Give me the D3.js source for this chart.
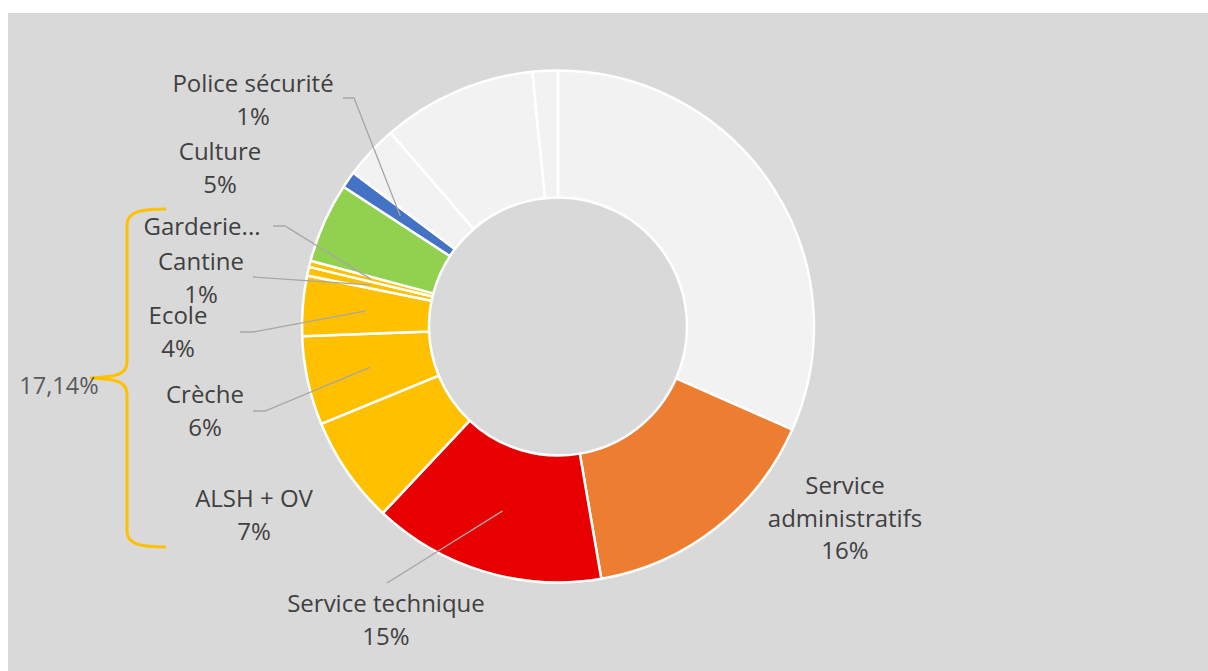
<!DOCTYPE html>
<html>
<head>
<meta charset="utf-8">
<script src="https://cdn.jsdelivr.net/npm/d3@7"></script>
<style>
  body { margin: 0; background: #fff; }
  svg { display: block; }
  text { font-family: "Open Sans", sans-serif; }
</style>
</head>
<body>
<div class="chart"></div>
<script>
// services, clockwise from 12 o'clock
const categories = ['Autres A', 'Service administratifs', 'Service technique', 'ALSH + OV', 'Crèche', 'Ecole', 'Cantine', 'Garderie', 'Culture', 'Police sécurité', 'Autres B', 'Autres C', 'Autres D']
const values = [31.6, 15.7, 14.7, 6.8, 5.6, 3.8, 0.55, 0.39, 5.06, 1.06, 3.4, 9.75, 1.6]
const colors = ['#f2f2f2', '#ed7d31', '#e80000', '#ffc000', '#ffc000', '#ffc000', '#ffc000', '#ffc000', '#92d050', '#4472c4', '#f2f2f2', '#f2f2f2', '#f2f2f2']
const groupLabel = '17,14%'

// label layout: [category, lines, x, first baseline, leader start pts]
const labels = [
  {cat: 'Police sécurité', lines: ['Police sécurité', '1%'], x: 253, y: 92, lead: [[343, 98], [354, 98]]},
  {cat: 'Culture', lines: ['Culture', '5%'], x: 220, y: 160},
  {cat: 'Garderie', lines: ['Garderie...'], x: 202, y: 235, lead: [[273, 226], [285, 226]]},
  {cat: 'Cantine', lines: ['Cantine', '1%'], x: 201, y: 270, lead: [[253, 277]]},
  {cat: 'Ecole', lines: ['Ecole', '4%'], x: 178, y: 324, lead: [[240, 332], [253, 332]]},
  {cat: 'Crèche', lines: ['Crèche', '6%'], x: 205, y: 403, lead: [[253, 411], [265, 411]]},
  {cat: 'ALSH + OV', lines: ['ALSH + OV', '7%'], x: 254, y: 507},
  {cat: 'Service administratifs', lines: ['Service', 'administratifs', '16%'], x: 845, y: 494},
  {cat: 'Service technique', lines: ['Service technique', '15%'], x: 386, y: 612, lead: [[387, 583]]}
]

const width = 1208, height = 671
const cx = 558, cy = 326.5
const rOuter = 256, rInner = 129

const svg = d3.select('.chart').append('svg')
  .attr('width', width)
  .attr('height', height)

svg.append('rect')
  .attr('x', 8).attr('y', 13)
  .attr('width', width - 8).attr('height', height - 13)
  .attr('fill', '#d9d9d9')

const data = categories.map((c, i) => ({cat: c, value: values[i], color: colors[i]}))

const pie = d3.pie().sort(null).value(d => d.value)
const arcs = pie(data)
const arc = d3.arc().innerRadius(rInner).outerRadius(rOuter)

const g = svg.append('g').attr('transform', `translate(${cx},${cy})`)

g.selectAll('.slice')
  .data(arcs)
  .enter()
  .append('path')
  .attr('class', 'slice')
  .attr('d', arc)
  .attr('fill', d => d.data.color)
  .attr('stroke', '#fff')
  .attr('stroke-width', 2.5)
  .attr('stroke-linejoin', 'round')

// leader lines go to the slice centroid
labels.filter(l => l.lead).forEach(l => {
  const a = arcs.find(d => d.data.cat == l.cat)
  const c = arc.centroid(a)
  const pts = l.lead.concat([[c[0] + cx, c[1] + cy]])
  svg.append('path')
    .attr('d', d3.line()(pts))
    .attr('fill', 'none')
    .attr('stroke', '#a6a6a6')
    .attr('stroke-width', 1.3)
})

labels.forEach(l => {
  const t = svg.append('text')
    .attr('x', l.x)
    .attr('y', l.y)
    .attr('text-anchor', 'middle')
    .attr('font-size', 24)
    .attr('fill', '#404040')
  l.lines.forEach((s, i) => {
    t.append('tspan')
      .attr('x', l.x)
      .attr('dy', i == 0 ? 0 : 32.5)
      .text(s)
  })
})

// curly brace around the yellow group
svg.append('path')
  .attr('d', 'M166,209 C140,209 127,212 127,225 L127,362 C127,375 115,377 90,378 C115,379 127,381 127,394 L127,531 C127,544 140,547 166,547')
  .attr('fill', 'none')
  .attr('stroke', '#ffc000')
  .attr('stroke-width', 3)

svg.append('text')
  .attr('x', 59)
  .attr('y', 394)
  .attr('text-anchor', 'middle')
  .attr('font-size', 23.5)
  .attr('fill', '#595959')
  .text(groupLabel)
</script>
</body>
</html>
